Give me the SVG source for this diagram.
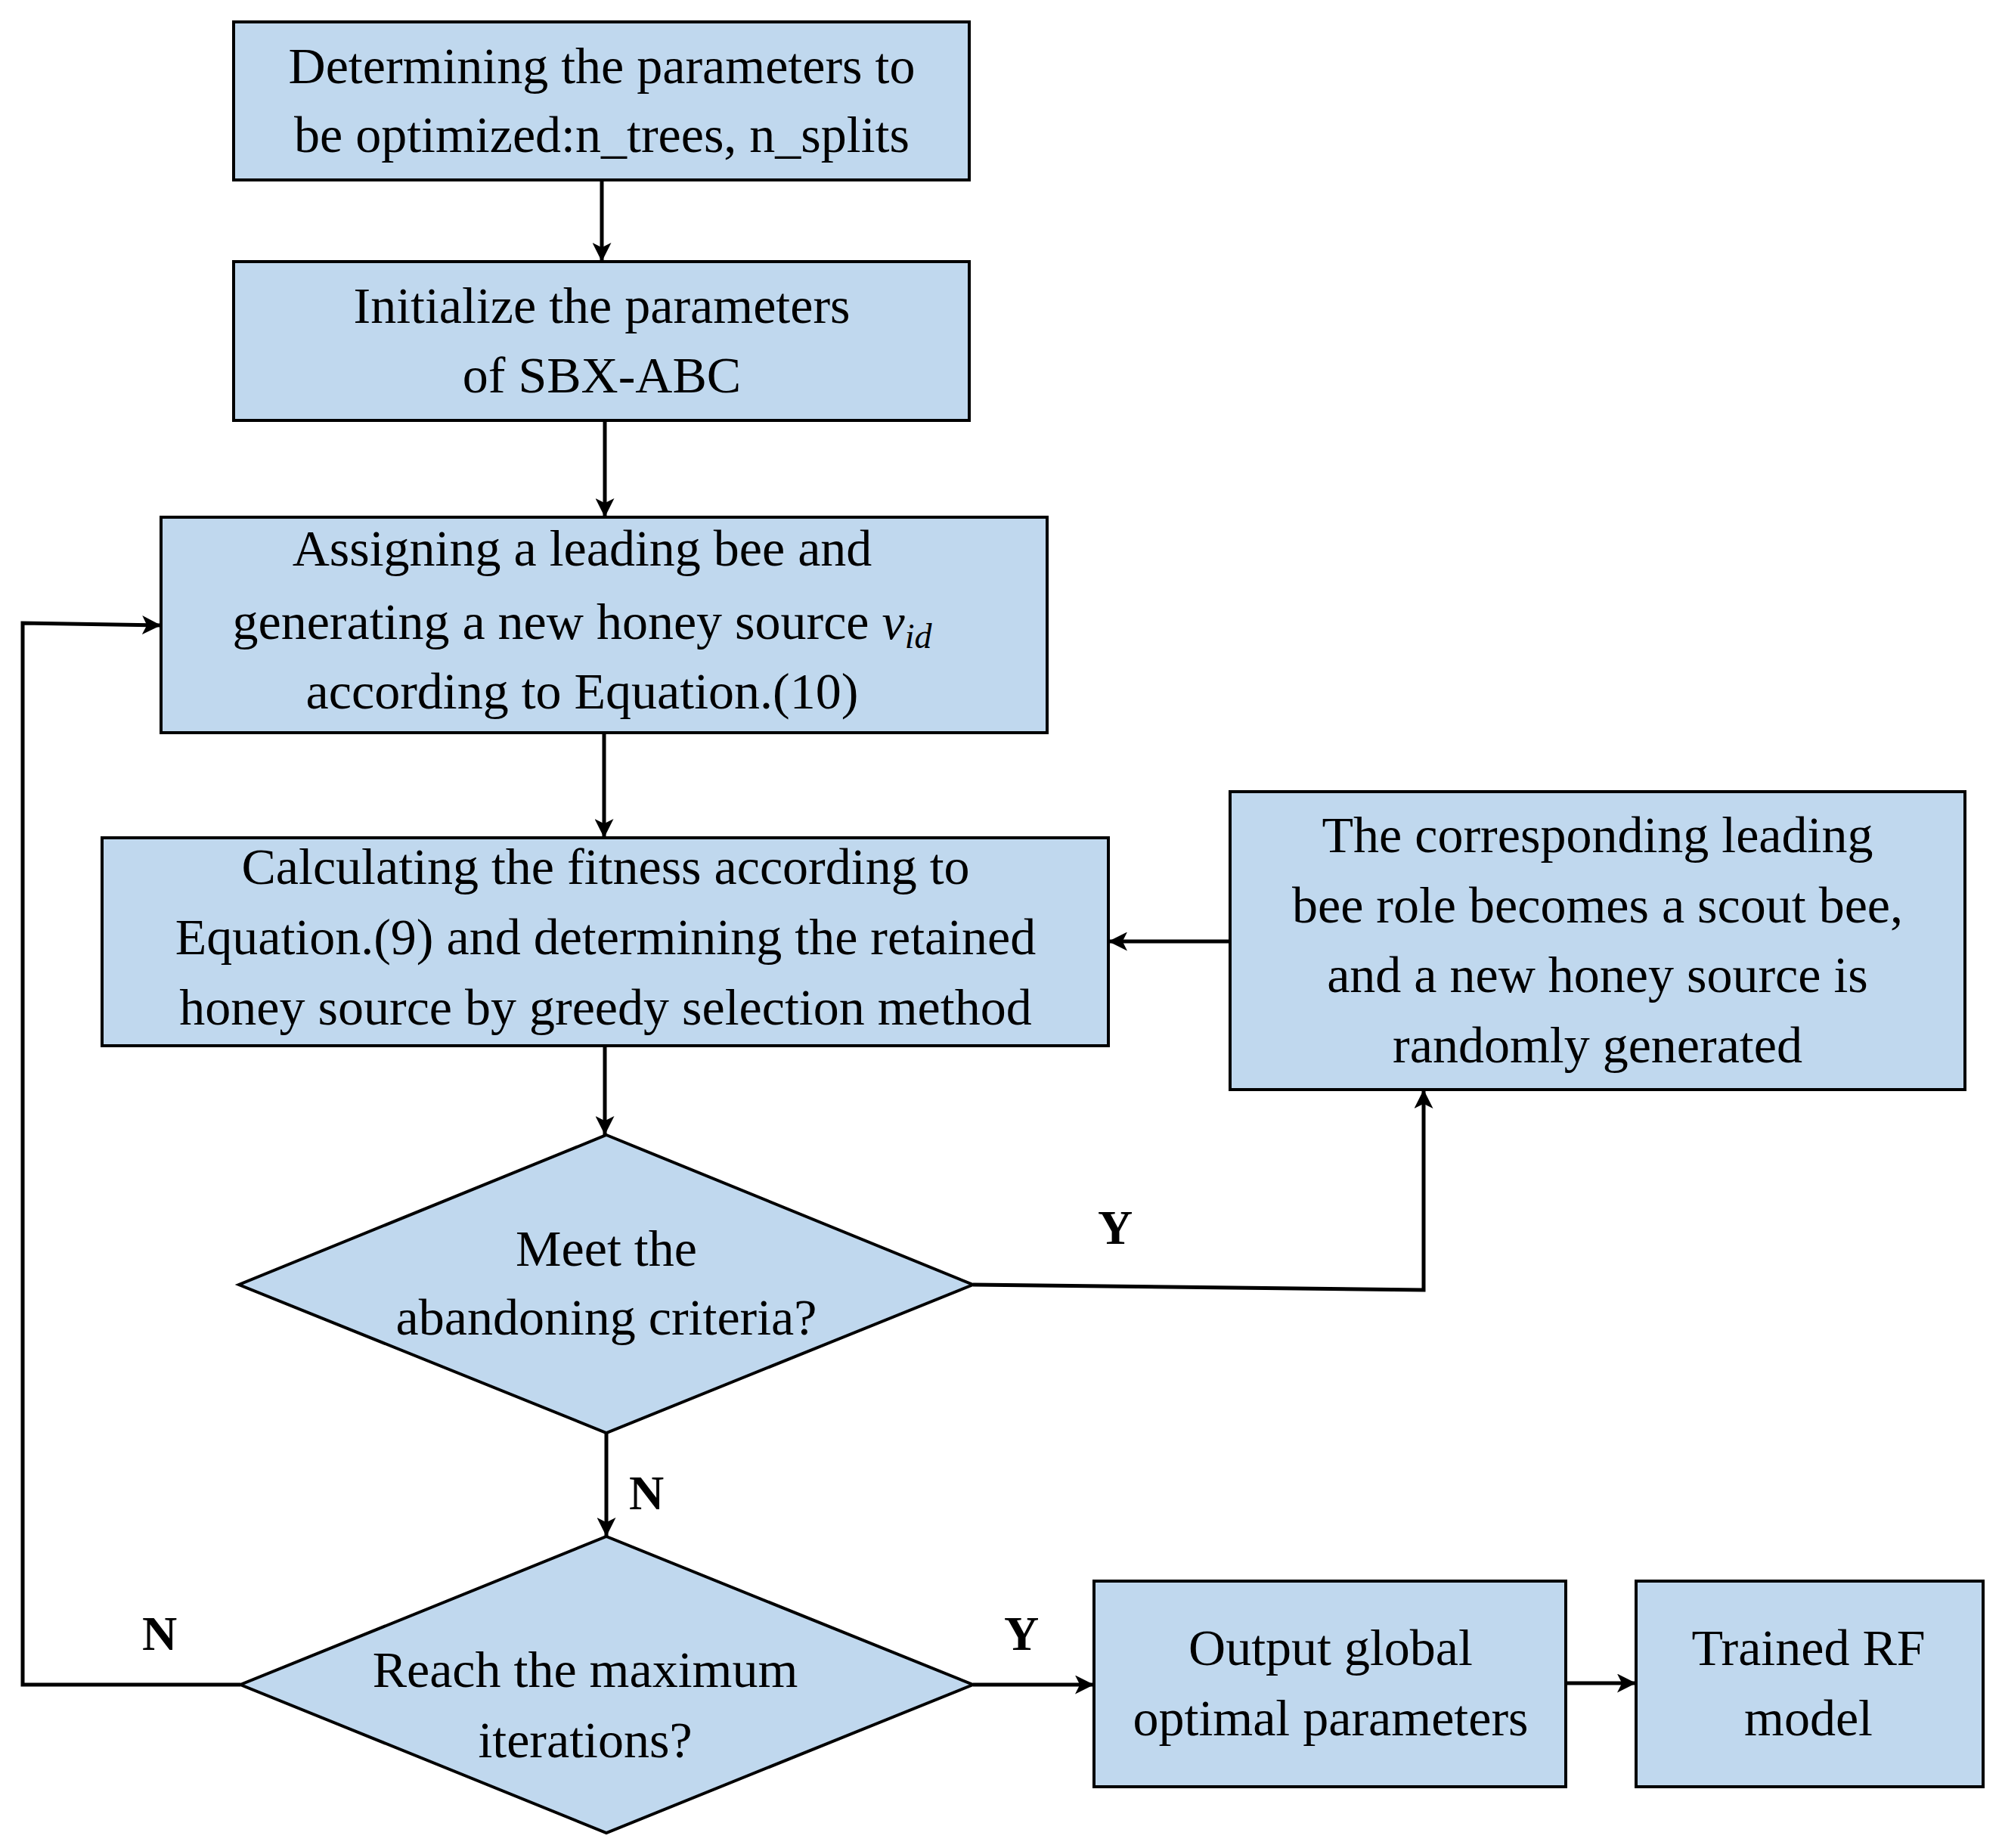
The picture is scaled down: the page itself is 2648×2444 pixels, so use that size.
<svg xmlns="http://www.w3.org/2000/svg" width="2648" height="2444" viewBox="0 0 2648 2444">
<defs>
<marker id="ah" viewBox="0 0 10 10" refX="10" refY="5" markerWidth="5" markerHeight="5" orient="auto" markerUnits="strokeWidth"><path d="M0,0 L10,5 L0,10 L2.5,5 z" fill="#000"/></marker>
<style>
.n{fill:#c0d8ee;stroke:#000;stroke-width:4}
text{font-family:"Liberation Serif","Times New Roman",serif;font-size:68px;text-anchor:middle;fill:#000}
.lb{font-weight:bold;font-size:64px}
.c{fill:none;stroke:#000;stroke-width:5;marker-end:url(#ah)}
</style>
</defs>
<rect width="2648" height="2444" fill="#fff"/>
<g id="n1"><rect class="n" x="309" y="29" width="973" height="209"/><text x="796" y="110">Determining the parameters to</text><text x="796" y="201">be optimized:n_trees, n_splits</text></g>
<g id="n2"><rect class="n" x="309" y="346" width="973" height="210"/><text x="796" y="427">Initialize the parameters</text><text x="796" y="519">of SBX-ABC</text></g>
<g id="n3"><rect class="n" x="213" y="684" width="1172" height="285"/><text x="770" y="748">Assigning a leading bee and</text><text x="770" y="845">generating a new honey source <tspan font-style="italic">v</tspan><tspan font-style="italic" font-size="46" dy="12">id</tspan></text><text x="770" y="937">according to Equation.(10)</text></g>
<g id="n4"><rect class="n" x="135" y="1108" width="1331" height="275"/><text x="801" y="1169">Calculating the fitness according to</text><text x="801" y="1262">Equation.(9) and determining the retained</text><text x="801" y="1355">honey source by greedy selection method</text></g>
<g id="n5"><rect class="n" x="1627" y="1047" width="972" height="394"/><text x="2113" y="1127">The corresponding leading</text><text x="2113" y="1220">bee role becomes a scout bee,</text><text x="2113" y="1312">and  a new honey source is</text><text x="2113" y="1405">randomly generated</text></g>
<g id="d1"><polygon class="n" points="802,1501 1287,1699 802,1895 316,1699"/><text x="802" y="1674">Meet the</text><text x="802" y="1765">abandoning criteria?</text></g>
<g id="d2"><polygon class="n" points="802,2032 1287,2228 802,2424 318,2228"/><text x="774" y="2231">Reach the maximum</text><text x="774" y="2324">iterations?</text></g>
<g id="n6"><rect class="n" x="1447" y="2091" width="624" height="272"/><text x="1760" y="2202">Output global</text><text x="1760" y="2295">optimal parameters</text></g>
<g id="n7"><rect class="n" x="2164" y="2091" width="459" height="272"/><text x="2392" y="2202">Trained RF</text><text x="2392" y="2295">model</text></g>
<g id="connectors">
<line class="c" x1="796" y1="238" x2="796" y2="346"/>
<line class="c" x1="800" y1="556" x2="800" y2="684"/>
<line class="c" x1="799" y1="969" x2="799" y2="1108"/>
<line class="c" x1="800" y1="1383" x2="800" y2="1501"/>
<polyline class="c" points="1287,1699 1883,1706 1883,1441"/>
<line class="c" x1="1627" y1="1245" x2="1466" y2="1245"/>
<line class="c" x1="802" y1="1895" x2="802" y2="2032"/>
<polyline class="c" points="318,2228 30,2228 30,824 213,827"/>
<line class="c" x1="1287" y1="2228" x2="1447" y2="2228"/>
<line class="c" x1="2071" y1="2226" x2="2164" y2="2226"/>
<text class="lb" x="1475" y="1645">Y</text>
<text class="lb" x="855" y="1996">N</text>
<text class="lb" x="211" y="2182">N</text>
<text class="lb" x="1351" y="2182">Y</text>
</g>
</svg>
